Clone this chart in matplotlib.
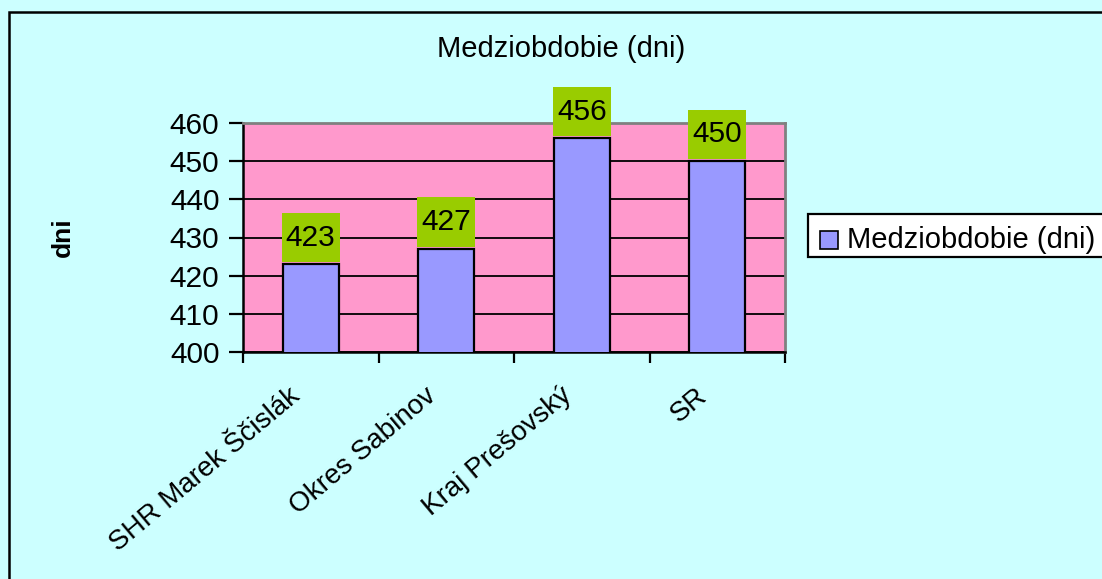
import matplotlib
matplotlib.use("Agg")
import matplotlib.pyplot as plt
from matplotlib.patches import Rectangle
from matplotlib.transforms import ScaledTranslation

categories = ["SHR Marek Ščislák", "Okres Sabinov", "Kraj Prešovský", "SR"]
values = [423, 427, 456, 450]
series_name = "Medziobdobie (dni)"
y_ticks = [400, 410, 420, 430, 440, 450, 460]

FIG_BG = "#CCFFFF"
PLOT_BG = "#FF99CC"
BAR_COLOR = "#9999FF"
LABEL_BG = "#99CC00"

plt.rcParams["font.family"] = ["Liberation Sans", "DejaVu Sans"]

W, H = 1102, 579
fig = plt.figure(figsize=(W / 100, H / 100), dpi=100, facecolor=FIG_BG)

# outer frame (left and top edges visible)
fig.patches.append(Rectangle((9 / W, -0.5), 2.0, 1 - 12 / H + 0.5,
                             transform=fig.transFigure, fill=False,
                             edgecolor="black", linewidth=1.8, zorder=0))

ax = fig.add_axes([243 / W, 1 - 352 / H, (785 - 243) / W, (352 - 123) / H])
ax.set_facecolor(PLOT_BG)

n = len(categories)
xs = list(range(n))
ax.bar(xs, values, width=0.41, bottom=0, color=BAR_COLOR,
       edgecolor="black", linewidth=1.6, zorder=3)

ax.set_xlim(-0.5, n - 0.5)
ax.set_ylim(y_ticks[0], y_ticks[-1])
ax.set_yticks(y_ticks)
ax.yaxis.grid(True, color="black", linewidth=1.3, zorder=1)
ax.set_axisbelow(True)

# boundaries carry tick marks, centres carry the category names
ax.set_xticks([i - 0.5 for i in range(n + 1)])
ax.set_xticklabels([])
ax.set_xticks(xs, minor=True)
ax.set_xticklabels(categories, minor=True, rotation=40, ha="right",
                   va="top", rotation_mode="anchor", fontsize=20)
ax.tick_params(axis="x", which="major", length=8, width=1.6, direction="out")
ax.tick_params(axis="x", which="minor", length=0, pad=22)
ax.tick_params(axis="y", length=10, width=1.6, pad=7, labelsize=21.5)

for lbl in ax.get_xticklabels(minor=True):
    lbl.set_transform(lbl.get_transform() +
                      ScaledTranslation(-0.22, 0, fig.dpi_scale_trans))

for side in ("left", "bottom"):
    ax.spines[side].set_color("black")
    ax.spines[side].set_linewidth(1.8)
for side in ("top", "right"):
    ax.spines[side].set_color("#808080")
    ax.spines[side].set_linewidth(2.0)

# value labels on green boxes above each bar
box_w = 0.43
for x, v in zip(xs, values):
    ax.add_patch(Rectangle((x - box_w / 2, v + 0.5), box_w, 13.0,
                           facecolor=LABEL_BG, edgecolor="none",
                           clip_on=False, zorder=4))
    ax.text(x, v + 0.5 + 6.5, f"{v}", ha="center", va="center",
            fontsize=21.5, color="black", zorder=5, clip_on=False)

fig.text(561 / W, 1 - 57 / H, series_name, ha="center", va="baseline",
         fontsize=21)
fig.text(63 / W, 1 - 237 / H, "dni", ha="center", va="center",
         rotation=90, fontsize=19, fontweight="bold")

# legend box
fig.patches.append(Rectangle((808 / W, 1 - 257 / H), 0.5, 43 / H,
                             transform=fig.transFigure, facecolor="white",
                             edgecolor="black", linewidth=1.6, zorder=2))
fig.patches.append(Rectangle((820 / W, 1 - 249 / H), 18 / W, 18 / H,
                             transform=fig.transFigure, facecolor=BAR_COLOR,
                             edgecolor="black", linewidth=1.2, zorder=3))
fig.text(847 / W, 1 - 240 / H, series_name, ha="left", va="center",
         fontsize=21, zorder=4)

fig.savefig("out.png", dpi=100, facecolor=FIG_BG)
